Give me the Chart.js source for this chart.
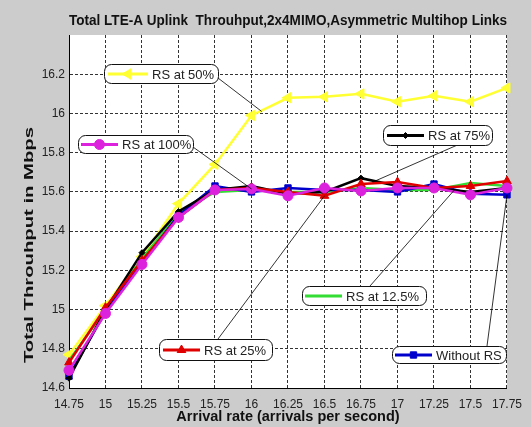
<!DOCTYPE html>
<html>
<head>
<meta charset="utf-8">
<script src="https://cdn.jsdelivr.net/npm/chart.js@4.4.1/dist/chart.umd.min.js"></script>
<style>
html, body { margin: 0; padding: 0; background: #cccccc; }
#wrap { width: 531px; height: 427px; }
</style>
</head>
<body>
<div id="wrap"><canvas id="throughputChart" width="531" height="427"></canvas></div>
<script>
// arrival rates (x) and axis ticks
const arrivalRates = [14.75, 15, 15.25, 15.5, 15.75, 16, 16.25, 16.5, 16.75, 17, 17.25, 17.5, 17.75];
const xTicks = [14.75, 15, 15.25, 15.5, 15.75, 16, 16.25, 16.5, 16.75, 17, 17.25, 17.5, 17.75];
const yTicks = [14.6, 14.8, 15, 15.2, 15.4, 15.6, 15.8, 16, 16.2];

// throughput in Mbps
const rs100 = [14.69, 14.98, 15.23, 15.47, 15.61, 15.615, 15.58, 15.62, 15.605, 15.62, 15.62, 15.585, 15.62];
const rs25 = [14.73, 15.01, 15.25, 15.47, 15.61, 15.62, 15.60, 15.58, 15.64, 15.65, 15.62, 15.63, 15.655];
const rs75 = [14.65, 15.00, 15.29, 15.50, 15.61, 15.63, 15.59, 15.60, 15.67, 15.63, 15.62, 15.60, 15.62];
const withoutRs = [14.66, 14.99, 15.24, 15.48, 15.63, 15.60, 15.62, 15.61, 15.61, 15.60, 15.64, 15.59, 15.585];
const rs125 = [14.74, 15.00, 15.26, 15.49, 15.60, 15.61, 15.60, 15.60, 15.62, 15.61, 15.61, 15.645, 15.63];
const rs50 = [14.77, 15.02, 15.27, 15.54, 15.74, 15.99, 16.08, 16.085, 16.10, 16.06, 16.09, 16.06, 16.13];

const FONT = "'Liberation Sans', Arial, sans-serif";
const toPoints = (ys) => ys.map((y, i) => ({ x: arrivalRates[i], y: y }));

// callout boxes (pixel layout) with leader lines to the curves
const callouts = [
  { label: 'RS at 50%', ds: 5, box: [104, 64, 114, 19], line: [108, 148], from: [218, 78], to: { x: 16.07, y: 16.01 } },
  { label: 'RS at 100%', ds: 0, box: [78, 135, 115, 18], line: [81, 118], from: [193, 147], toPoint: 5 },
  { label: 'RS at 75%', ds: 2, box: [383, 125, 109, 20], line: [387, 424], from: [462, 143], to: { x: 16.83, y: 15.65 } },
  { label: 'RS at 12.5%', ds: 4, box: [302, 286, 124, 19], line: [305, 342], from: [370, 286], to: { x: 17.39, y: 15.61 } },
  { label: 'Without RS', ds: 3, box: [392, 346, 114, 17], line: [395, 432], from: [487, 346], toPoint: 12 },
  { label: 'RS at 25%', ds: 1, box: [159, 339, 113, 21], line: [163, 200], from: [218, 339], toPoint: 7 }
];

const calloutPlugin = {
  id: 'callouts',
  beforeDraw(chart) {
    const { ctx, chartArea: a } = chart;
    ctx.save();
    ctx.fillStyle = '#cccccc';
    ctx.fillRect(0, 0, chart.width, chart.height);
    ctx.fillStyle = '#ffffff';
    ctx.fillRect(a.left, a.top, a.right - a.left, a.bottom - a.top);
    ctx.restore();
  },
  afterDatasetsDraw(chart) {
    const { ctx } = chart;
    const xs = chart.scales.x, ys = chart.scales.y;
    ctx.save();
    callouts.forEach(c => {
      let tx, ty;
      if (c.toPoint !== undefined) {
        const el = chart.getDatasetMeta(c.ds).data[c.toPoint];
        tx = el.x; ty = el.y;
      } else {
        tx = xs.getPixelForValue(c.to.x); ty = ys.getPixelForValue(c.to.y);
      }
      ctx.strokeStyle = '#000';
      ctx.lineWidth = 0.8;
      ctx.setLineDash([]);
      ctx.beginPath();
      ctx.moveTo(c.from[0], c.from[1]);
      ctx.lineTo(tx, ty);
      ctx.stroke();
    });
    callouts.forEach(c => {
      const [bx, by, bw, bh] = c.box;
      const ds = chart.data.datasets[c.ds];
      ctx.fillStyle = '#ffffff';
      ctx.strokeStyle = '#111';
      ctx.lineWidth = 1;
      ctx.beginPath();
      ctx.roundRect(bx + 0.5, by + 0.5, bw, bh, 7);
      ctx.fill();
      ctx.stroke();
      const cy = by + bh / 2 + 0.5;
      ctx.strokeStyle = ds.borderColor;
      ctx.lineWidth = 3;
      ctx.beginPath();
      ctx.moveTo(c.line[0], cy);
      ctx.lineTo(c.line[1], cy);
      ctx.stroke();
      if (ds.pointRadius > 0) {
        ctx.fillStyle = ds.pointBackgroundColor;
        ctx.strokeStyle = ds.pointBorderColor;
        ctx.lineWidth = 1;
        Chart.helpers.drawPoint(ctx, {
          pointStyle: ds.pointStyle,
          rotation: ds.pointRotation || 0,
          radius: ds.pointRadius,
          borderWidth: 1
        }, (c.line[0] + c.line[1]) / 2, cy);
      }
      ctx.fillStyle = '#222';
      ctx.font = '13px ' + FONT;
      ctx.textBaseline = 'middle';
      ctx.textAlign = 'left';
      ctx.fillText(c.label, c.line[1] + 4, cy + 1);
    });
    ctx.restore();
  },
  afterDraw(chart) {
    // y axis title, stretched along its length like the original figure
    const { ctx } = chart;
    const text = 'Total Throuhput in Mbps';
    ctx.save();
    ctx.font = 'bold 13px ' + FONT;
    const w = ctx.measureText(text).width;
    ctx.translate(29, 245);
    ctx.rotate(-Math.PI / 2);
    ctx.scale(236 / w, 1);
    ctx.fillStyle = '#111';
    ctx.textAlign = 'center';
    ctx.textBaseline = 'middle';
    ctx.fillText(text, 0, 0);
    ctx.restore();
  }
};

function series(data, color, style, radius, rotation) {
  return {
    data: toPoints(data),
    borderColor: color,
    backgroundColor: color,
    pointBackgroundColor: color,
    pointBorderColor: color,
    borderWidth: 2.5,
    pointStyle: style,
    pointRadius: radius,
    pointRotation: rotation || 0,
    pointBorderWidth: 1,
    tension: 0,
    clip: false
  };
}

const ctx = document.getElementById('throughputChart').getContext('2d');
const throughputChart = new Chart(ctx, {
  type: 'line',
  data: {
    datasets: [
      series(rs100, '#dd22dd', 'circle', 5),
      series(rs25, '#e00000', 'triangle', 5),
      series(rs75, '#000000', 'rectRot', 3),
      series(withoutRs, '#0000cc', 'rect', 4.5),
      series(rs125, '#33dd33', 'circle', 0),
      series(rs50, '#ffff33', 'triangle', 6, -90)
    ]
  },
  options: {
    responsive: false,
    animation: false,
    layout: { padding: { left: 0, right: 18, top: 0, bottom: 0 } },
    scales: {
      x: {
        type: 'linear',
        min: 14.75,
        max: 17.75,
        afterBuildTicks: (axis) => { axis.ticks = xTicks.map(v => ({ value: v })); },
        afterFit: (axis) => { axis.height = 39; },
        ticks: {
          callback: (v) => String(v),
          color: '#222',
          font: { family: FONT, size: 12 },
          padding: 9,
          maxRotation: 0,
          autoSkip: false
        },
        grid: { color: '#333', lineWidth: 1, drawTicks: false },
        border: { display: true, color: '#000', width: 1, dash: [3, 2] },
        title: {
          display: true,
          text: 'Arrival rate (arrivals per second)',
          color: '#111',
          font: { family: FONT, size: 14.5, weight: 'bold' },
          padding: { top: 0, bottom: 1 }
        }
      },
      y: {
        type: 'linear',
        min: 14.6,
        max: 16.4,
        afterBuildTicks: (axis) => { axis.ticks = yTicks.map(v => ({ value: v })); },
        afterFit: (axis) => { axis.width = 69; },
        ticks: {
          callback: (v) => String(v),
          color: '#222',
          font: { family: FONT, size: 12 },
          padding: 4
        },
        grid: { color: '#333', lineWidth: 1, drawTicks: false },
        border: { display: true, color: '#000', width: 1, dash: [3, 2] }
      }
    },
    plugins: {
      legend: { display: false },
      tooltip: { enabled: false },
      title: {
        display: true,
        fullSize: false,
        text: 'Total LTE-A Uplink  Throuhput,2x4MIMO,Asymmetric Multihop Links',
        color: '#111',
        font: { family: FONT, size: 14, weight: 'bold' },
        padding: { top: 12.6, bottom: 5.6 }
      }
    }
  },
  plugins: [calloutPlugin]
});
</script>
</body>
</html>
